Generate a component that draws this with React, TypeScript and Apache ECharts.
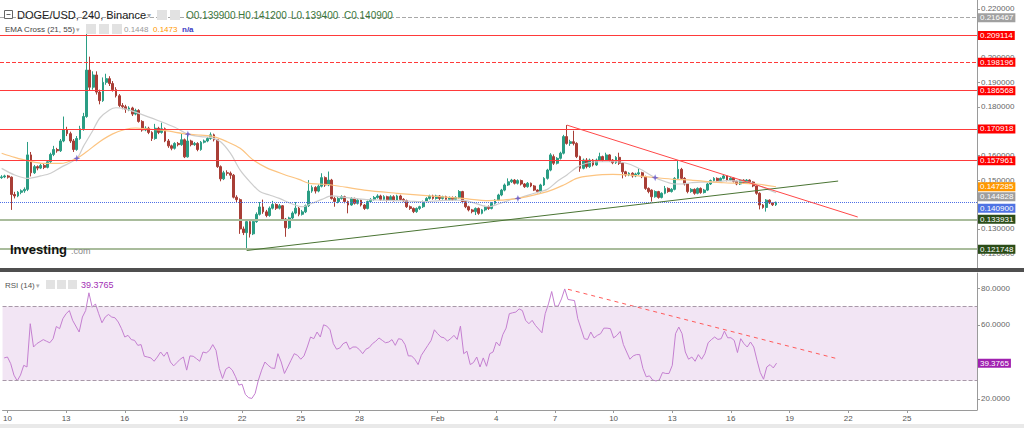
import React, { useEffect, useRef } from 'react';
import * as echarts from 'echarts';

const FONT = '"Liberation Sans", Arial, sans-serif';

// 4-hour slots from 2022-01-09 20:00 UTC up to the right edge of the chart
const SLOT_START = Date.UTC(2022, 0, 9, 20);
const SLOT_COUNT = 299;
const categories: string[] = Array.from({ length: SLOT_COUNT }, (_, k) =>
  new Date(SLOT_START + k * 4 * 3600000).toISOString().slice(0, 16).replace('T', ' ')
);

const dayTicks: [string, string][] = [
  ['2022-01-10', '10'], ['2022-01-13', '13'], ['2022-01-16', '16'], ['2022-01-19', '19'],
  ['2022-01-22', '22'], ['2022-01-25', '25'], ['2022-01-28', '28'], ['2022-02-01', 'Feb'],
  ['2022-02-04', '4'], ['2022-02-07', '7'], ['2022-02-10', '10'], ['2022-02-13', '13'],
  ['2022-02-16', '16'], ['2022-02-19', '19'], ['2022-02-22', '22'], ['2022-02-25', '25'],
];
const tickMap = new Map(dayTicks.map(([d, t]) => [d + ' 00:00', t]));

// candles: [open, close, low, high]
const ohlc: number[][] = [
  [0.1510, 0.1513, 0.1505, 0.1520], [0.1513, 0.1517, 0.1508, 0.1522], [0.1517, 0.1512, 0.1506, 0.1521],
  [0.1512, 0.1441, 0.1378, 0.1515], [0.1441, 0.1435, 0.1425, 0.1452], [0.1435, 0.1450, 0.1430, 0.1455],
  [0.1450, 0.1456, 0.1442, 0.1462], [0.1456, 0.1462, 0.1448, 0.1470], [0.1462, 0.1603, 0.1455, 0.1656],
  [0.1603, 0.1530, 0.1515, 0.1615], [0.1530, 0.1555, 0.1525, 0.1562], [0.1555, 0.1549, 0.1540, 0.1560],
  [0.1549, 0.1560, 0.1545, 0.1566], [0.1560, 0.1552, 0.1545, 0.1568], [0.1552, 0.1575, 0.1548, 0.1580],
  [0.1575, 0.1605, 0.1570, 0.1612], [0.1605, 0.1625, 0.1598, 0.1640], [0.1625, 0.1620, 0.1612, 0.1632],
  [0.1620, 0.1660, 0.1615, 0.1668], [0.1660, 0.1705, 0.1655, 0.1760], [0.1705, 0.1690, 0.1680, 0.1718],
  [0.1690, 0.1660, 0.1652, 0.1698], [0.1660, 0.1625, 0.1615, 0.1668], [0.1625, 0.1670, 0.1620, 0.1680],
  [0.1670, 0.1710, 0.1665, 0.1722], [0.1710, 0.1760, 0.1702, 0.1775], [0.1760, 0.1950, 0.1755, 0.2120],
  [0.1950, 0.1880, 0.1865, 0.2005], [0.1880, 0.1930, 0.1870, 0.1945], [0.1930, 0.1860, 0.1850, 0.1945],
  [0.1860, 0.1825, 0.1810, 0.1870], [0.1825, 0.1900, 0.1820, 0.1920], [0.1900, 0.1915, 0.1890, 0.1935],
  [0.1915, 0.1895, 0.1885, 0.1925], [0.1895, 0.1870, 0.1862, 0.1905], [0.1870, 0.1845, 0.1838, 0.1880],
  [0.1845, 0.1805, 0.1798, 0.1852], [0.1805, 0.1800, 0.1790, 0.1815], [0.1800, 0.1790, 0.1775, 0.1808],
  [0.1790, 0.1795, 0.1782, 0.1802], [0.1795, 0.1770, 0.1762, 0.1800], [0.1770, 0.1785, 0.1765, 0.1792],
  [0.1785, 0.1740, 0.1735, 0.1790], [0.1740, 0.1705, 0.1698, 0.1745], [0.1705, 0.1712, 0.1700, 0.1720],
  [0.1712, 0.1695, 0.1688, 0.1718], [0.1695, 0.1670, 0.1660, 0.1700], [0.1670, 0.1712, 0.1665, 0.1730],
  [0.1712, 0.1695, 0.1688, 0.1718], [0.1695, 0.1710, 0.1690, 0.1735], [0.1710, 0.1660, 0.1655, 0.1715],
  [0.1660, 0.1640, 0.1632, 0.1668], [0.1640, 0.1630, 0.1622, 0.1645], [0.1630, 0.1650, 0.1625, 0.1655],
  [0.1650, 0.1645, 0.1638, 0.1656], [0.1645, 0.1665, 0.1640, 0.1690], [0.1665, 0.1595, 0.1590, 0.1670],
  [0.1595, 0.1660, 0.1592, 0.1685], [0.1660, 0.1645, 0.1638, 0.1665], [0.1645, 0.1650, 0.1640, 0.1656],
  [0.1650, 0.1625, 0.1618, 0.1655], [0.1625, 0.1655, 0.1620, 0.1660], [0.1655, 0.1660, 0.1650, 0.1666],
  [0.1660, 0.1670, 0.1655, 0.1676], [0.1670, 0.1685, 0.1665, 0.1695], [0.1685, 0.1665, 0.1658, 0.1690],
  [0.1665, 0.1555, 0.1550, 0.1668], [0.1555, 0.1505, 0.1495, 0.1560], [0.1505, 0.1530, 0.1500, 0.1538],
  [0.1530, 0.1528, 0.1518, 0.1540], [0.1528, 0.1520, 0.1505, 0.1535], [0.1520, 0.1430, 0.1425, 0.1525],
  [0.1430, 0.1420, 0.1410, 0.1438], [0.1420, 0.1300, 0.1280, 0.1425], [0.1300, 0.1285, 0.1275, 0.1310],
  [0.1285, 0.1330, 0.1215, 0.1338], [0.1330, 0.1280, 0.1265, 0.1335], [0.1280, 0.1330, 0.1275, 0.1338],
  [0.1330, 0.1360, 0.1325, 0.1368], [0.1360, 0.1390, 0.1355, 0.1410], [0.1390, 0.1370, 0.1362, 0.1420],
  [0.1370, 0.1355, 0.1348, 0.1378], [0.1355, 0.1385, 0.1350, 0.1392], [0.1385, 0.1400, 0.1380, 0.1415],
  [0.1400, 0.1385, 0.1378, 0.1405], [0.1385, 0.1395, 0.1380, 0.1402], [0.1395, 0.1340, 0.1335, 0.1398],
  [0.1340, 0.1305, 0.1268, 0.1345], [0.1305, 0.1345, 0.1300, 0.1350], [0.1345, 0.1365, 0.1340, 0.1372],
  [0.1365, 0.1385, 0.1360, 0.1410], [0.1385, 0.1360, 0.1352, 0.1390], [0.1360, 0.1370, 0.1355, 0.1378],
  [0.1370, 0.1395, 0.1365, 0.1400], [0.1395, 0.1455, 0.1390, 0.1500], [0.1455, 0.1470, 0.1448, 0.1478],
  [0.1470, 0.1455, 0.1445, 0.1475], [0.1455, 0.1475, 0.1450, 0.1482], [0.1475, 0.1510, 0.1470, 0.1528],
  [0.1510, 0.1480, 0.1472, 0.1515], [0.1480, 0.1500, 0.1475, 0.1535], [0.1500, 0.1425, 0.1420, 0.1505],
  [0.1425, 0.1412, 0.1391, 0.1432], [0.1412, 0.1425, 0.1405, 0.1430], [0.1425, 0.1432, 0.1420, 0.1438],
  [0.1432, 0.1412, 0.1405, 0.1436], [0.1412, 0.1398, 0.1364, 0.1416], [0.1398, 0.1425, 0.1395, 0.1430],
  [0.1425, 0.1405, 0.1400, 0.1428], [0.1405, 0.1418, 0.1400, 0.1424], [0.1418, 0.1398, 0.1392, 0.1420],
  [0.1398, 0.1384, 0.1378, 0.1402], [0.1384, 0.1412, 0.1380, 0.1416], [0.1412, 0.1421, 0.1408, 0.1426],
  [0.1421, 0.1429, 0.1416, 0.1435], [0.1429, 0.1435, 0.1424, 0.1442], [0.1435, 0.1421, 0.1415, 0.1440],
  [0.1421, 0.1432, 0.1416, 0.1438], [0.1432, 0.1418, 0.1412, 0.1436], [0.1418, 0.1432, 0.1414, 0.1438],
  [0.1432, 0.1418, 0.1412, 0.1438], [0.1418, 0.1435, 0.1414, 0.1440], [0.1435, 0.1421, 0.1416, 0.1440],
  [0.1421, 0.1416, 0.1410, 0.1426], [0.1416, 0.1391, 0.1386, 0.1420], [0.1391, 0.1384, 0.1378, 0.1396],
  [0.1384, 0.1371, 0.1365, 0.1388], [0.1371, 0.1384, 0.1366, 0.1388], [0.1384, 0.1391, 0.1378, 0.1395],
  [0.1391, 0.1412, 0.1386, 0.1416], [0.1412, 0.1425, 0.1408, 0.1430], [0.1425, 0.1435, 0.1420, 0.1440],
  [0.1435, 0.1425, 0.1420, 0.1440], [0.1425, 0.1435, 0.1420, 0.1440], [0.1435, 0.1425, 0.1418, 0.1438],
  [0.1425, 0.1432, 0.1420, 0.1436], [0.1432, 0.1421, 0.1416, 0.1436], [0.1421, 0.1429, 0.1416, 0.1433],
  [0.1429, 0.1421, 0.1415, 0.1433], [0.1421, 0.1429, 0.1417, 0.1434], [0.1429, 0.1453, 0.1424, 0.1459],
  [0.1453, 0.1412, 0.1405, 0.1456], [0.1412, 0.1391, 0.1385, 0.1416], [0.1391, 0.1378, 0.1372, 0.1395],
  [0.1378, 0.1371, 0.1364, 0.1382], [0.1371, 0.1384, 0.1357, 0.1388], [0.1384, 0.1364, 0.1358, 0.1388],
  [0.1364, 0.1378, 0.1360, 0.1382], [0.1378, 0.1391, 0.1372, 0.1395], [0.1391, 0.1384, 0.1378, 0.1396],
  [0.1384, 0.1405, 0.1380, 0.1410], [0.1405, 0.1418, 0.1400, 0.1422], [0.1418, 0.1439, 0.1414, 0.1444],
  [0.1439, 0.1459, 0.1434, 0.1464], [0.1459, 0.1480, 0.1454, 0.1486], [0.1480, 0.1493, 0.1476, 0.1507],
  [0.1493, 0.1500, 0.1488, 0.1505], [0.1500, 0.1487, 0.1482, 0.1504], [0.1487, 0.1498, 0.1482, 0.1503],
  [0.1498, 0.1484, 0.1478, 0.1502], [0.1484, 0.1473, 0.1468, 0.1488], [0.1473, 0.1487, 0.1469, 0.1492],
  [0.1487, 0.1476, 0.1471, 0.1490], [0.1476, 0.1459, 0.1455, 0.1480], [0.1459, 0.1453, 0.1446, 0.1462],
  [0.1453, 0.1480, 0.1449, 0.1485], [0.1480, 0.1507, 0.1476, 0.1512], [0.1507, 0.1541, 0.1502, 0.1546],
  [0.1541, 0.1603, 0.1536, 0.1610], [0.1596, 0.1569, 0.1562, 0.1605], [0.1569, 0.1589, 0.1564, 0.1594],
  [0.1589, 0.1610, 0.1584, 0.1616], [0.1610, 0.1678, 0.1605, 0.1685], [0.1678, 0.1650, 0.1645, 0.1725],
  [0.1650, 0.1657, 0.1640, 0.1665], [0.1657, 0.1650, 0.1642, 0.1702], [0.1650, 0.1596, 0.1590, 0.1655],
  [0.1596, 0.1548, 0.1534, 0.1600], [0.1548, 0.1582, 0.1544, 0.1588], [0.1582, 0.1555, 0.1548, 0.1590],
  [0.1555, 0.1582, 0.1550, 0.1588], [0.1582, 0.1562, 0.1556, 0.1586], [0.1562, 0.1582, 0.1558, 0.1588],
  [0.1582, 0.1596, 0.1578, 0.1612], [0.1596, 0.1582, 0.1576, 0.1600], [0.1582, 0.1603, 0.1578, 0.1612],
  [0.1603, 0.1582, 0.1576, 0.1606], [0.1582, 0.1571, 0.1565, 0.1586], [0.1571, 0.1593, 0.1566, 0.1598],
  [0.1593, 0.1569, 0.1562, 0.1612], [0.1569, 0.1534, 0.1507, 0.1572], [0.1534, 0.1521, 0.1514, 0.1538],
  [0.1521, 0.1528, 0.1516, 0.1532], [0.1528, 0.1517, 0.1510, 0.1532], [0.1517, 0.1525, 0.1512, 0.1530],
  [0.1525, 0.1530, 0.1520, 0.1548], [0.1530, 0.1514, 0.1508, 0.1534], [0.1514, 0.1466, 0.1460, 0.1518],
  [0.1466, 0.1453, 0.1446, 0.1470], [0.1459, 0.1432, 0.1412, 0.1462], [0.1432, 0.1453, 0.1428, 0.1458],
  [0.1453, 0.1429, 0.1424, 0.1456], [0.1429, 0.1446, 0.1425, 0.1450], [0.1446, 0.1466, 0.1442, 0.1476],
  [0.1466, 0.1453, 0.1448, 0.1470], [0.1453, 0.1462, 0.1449, 0.1467], [0.1462, 0.1507, 0.1458, 0.1512],
  [0.1507, 0.1544, 0.1502, 0.1582], [0.1544, 0.1507, 0.1500, 0.1550], [0.1507, 0.1484, 0.1478, 0.1512],
  [0.1484, 0.1453, 0.1446, 0.1488], [0.1453, 0.1462, 0.1448, 0.1467], [0.1462, 0.1446, 0.1440, 0.1466],
  [0.1446, 0.1466, 0.1442, 0.1470], [0.1466, 0.1449, 0.1444, 0.1470], [0.1449, 0.1459, 0.1445, 0.1464],
  [0.1459, 0.1484, 0.1455, 0.1488], [0.1484, 0.1498, 0.1480, 0.1502], [0.1498, 0.1507, 0.1494, 0.1512],
  [0.1507, 0.1498, 0.1493, 0.1511], [0.1498, 0.1507, 0.1494, 0.1511], [0.1507, 0.1517, 0.1503, 0.1524],
  [0.1517, 0.1500, 0.1495, 0.1520], [0.1500, 0.1508, 0.1496, 0.1512], [0.1508, 0.1495, 0.1490, 0.1511],
  [0.1495, 0.1484, 0.1479, 0.1498], [0.1484, 0.1500, 0.1480, 0.1504], [0.1500, 0.1489, 0.1484, 0.1503],
  [0.1489, 0.1500, 0.1485, 0.1504], [0.1500, 0.1492, 0.1487, 0.1503], [0.1492, 0.1476, 0.1471, 0.1495],
  [0.1476, 0.1446, 0.1440, 0.1479], [0.1446, 0.1398, 0.1380, 0.1450], [0.1398, 0.1388, 0.1383, 0.1402],
  [0.1388, 0.1418, 0.1371, 0.1422], [0.1418, 0.1407, 0.1402, 0.1421], [0.1407, 0.1399, 0.1394, 0.1410],
  [0.1399, 0.1409, 0.1394, 0.1412],
];

// EMA 21 (grey) and EMA 55 (orange), read at their vertices: [slot, value]
const emaFast: number[][] = [
  [0, 0.1548], [4, 0.1521], [8, 0.1507], [12, 0.1517], [15, 0.1528], [18, 0.1551], [23, 0.1589],
  [25, 0.1637], [28, 0.1705], [30, 0.1753], [33, 0.1787], [35, 0.1796], [38, 0.1790], [42, 0.1773],
  [48, 0.1743], [53, 0.1716], [57, 0.1688], [61, 0.1678], [64, 0.1675], [67, 0.1657], [70, 0.1610],
  [73, 0.1541], [76, 0.1493], [79, 0.1453], [82, 0.1439], [85, 0.1425], [89, 0.1402], [92, 0.1391],
  [95, 0.1405], [98, 0.1421], [101, 0.1435], [105, 0.1429], [111, 0.1421], [116, 0.1418], [121, 0.1416],
  [125, 0.1414], [129, 0.1412], [134, 0.1416], [139, 0.1418], [142, 0.1416], [145, 0.1405], [149, 0.1391],
  [152, 0.1402], [156, 0.1421], [158, 0.1425], [163, 0.1446], [167, 0.1462], [170, 0.1494], [173, 0.1521],
  [176, 0.1552], [179, 0.1569], [183, 0.1575], [188, 0.1575], [192, 0.1566], [196, 0.1541], [200, 0.1510],
  [203, 0.1494], [206, 0.1484], [208, 0.1484], [211, 0.1489], [214, 0.1492], [218, 0.1492], [222, 0.1498],
  [226, 0.1496], [229, 0.1491], [232, 0.1476], [235, 0.1459], [237, 0.144828],
];
const emaSlow: number[][] = [
  [0, 0.1610], [4, 0.1593], [8, 0.1579], [13, 0.1568], [18, 0.1568], [23, 0.1589], [26, 0.1616],
  [30, 0.1657], [34, 0.1689], [38, 0.1708], [41, 0.1713], [45, 0.1709], [50, 0.1702], [57, 0.1688],
  [61, 0.1684], [65, 0.1678], [69, 0.1657], [73, 0.1630], [77, 0.1582], [81, 0.1551], [86, 0.1525],
  [91, 0.1503], [94, 0.1487], [97, 0.1484], [101, 0.1480], [111, 0.1459], [121, 0.1446], [131, 0.1435],
  [141, 0.1425], [149, 0.1416], [153, 0.1418], [158, 0.1425], [167, 0.1453], [172, 0.1480], [176, 0.1507],
  [180, 0.1517], [187, 0.1523], [192, 0.1521], [197, 0.1514], [200, 0.1510], [206, 0.1503], [211, 0.1500],
  [216, 0.1494], [221, 0.1489], [226, 0.1487], [231, 0.1484], [237, 0.147285],
];
const emaCrosses: number[][] = [[23, 0.1589], [57, 0.1688], [158, 0.1425], [200, 0.1510]];

// RSI(14) read at its vertices: [slot, value]
const rsi: number[][] = [
  [0, 42.2], [1, 42.7], [2, 39.1], [3, 32.9], [4, 29.8], [5, 32.9], [6, 38.2], [7, 37.3], [8, 60.7],
  [9, 48.1], [10, 49.9], [12, 52.1], [13, 51.2], [14, 50.4], [15, 52.6], [16, 59.2], [17, 58.0], [18, 63.4],
  [19, 66.1], [20, 67.8], [21, 62.5], [23, 56.2], [24, 64.3], [25, 67.8], [26, 77.4], [27, 69.6], [28, 71.4],
  [29, 66.1], [30, 61.2], [31, 64.3], [32, 65.7], [33, 64.3], [34, 63.9], [35, 61.6], [36, 58.0], [37, 53.5],
  [38, 54.4], [39, 52.1], [40, 51.7], [41, 49.0], [42, 49.4], [43, 43.1], [44, 42.7], [45, 42.2], [46, 40.4],
  [47, 42.7], [48, 45.4], [49, 43.1], [50, 45.4], [51, 40.0], [52, 37.9], [53, 39.7], [54, 41.5], [55, 42.7],
  [56, 35.6], [57, 43.3], [58, 43.1], [59, 41.8], [60, 40.4], [61, 45.4], [62, 44.9], [63, 46.3], [64, 49.4],
  [65, 46.3], [66, 36.5], [67, 31.1], [68, 36.1], [69, 37.3], [70, 35.6], [71, 32.0], [72, 27.5], [73, 28.0],
  [74, 22.5], [75, 20.7], [76, 20.3], [77, 23.0], [78, 30.2], [79, 35.6], [80, 40.0], [81, 38.2], [82, 36.8],
  [83, 36.5], [84, 44.5], [85, 40.0], [86, 33.8], [87, 37.3], [88, 40.9], [89, 44.5], [90, 43.6], [91, 41.5],
  [92, 43.3], [93, 48.1], [94, 53.5], [95, 52.6], [96, 56.2], [97, 53.5], [98, 60.1], [99, 59.4], [100, 57.4],
  [101, 49.9], [102, 46.9], [103, 47.6], [104, 49.9], [105, 50.8], [106, 46.9], [107, 48.1], [108, 48.1],
  [109, 46.7], [110, 44.5], [111, 46.9], [112, 47.8], [113, 49.9], [114, 51.2], [115, 53.0], [116, 51.7],
  [117, 50.4], [118, 50.8], [119, 52.1], [120, 49.0], [121, 52.6], [122, 52.2], [123, 49.4], [124, 43.3],
  [125, 43.3], [126, 41.5], [127, 38.6], [128, 43.6], [130, 49.0], [131, 51.7], [132, 57.4], [133, 55.3],
  [134, 53.5], [135, 53.1], [136, 51.3], [137, 52.6], [138, 54.4], [139, 52.2], [140, 59.4], [141, 44.5],
  [142, 45.8], [143, 38.6], [144, 39.7], [145, 42.7], [146, 37.3], [147, 42.2], [148, 37.7], [149, 44.5],
  [150, 45.4], [151, 50.8], [152, 48.7], [153, 54.8], [154, 58.3], [155, 66.1], [156, 66.6], [157, 67.0],
  [158, 68.7], [159, 67.8], [160, 62.5], [161, 60.7], [162, 62.5], [163, 59.8], [165, 55.8], [166, 66.1],
  [167, 71.4], [168, 78.1], [169, 70.2], [170, 70.2], [171, 74.1], [172, 79.5], [173, 73.8], [175, 73.2],
  [176, 63.4], [178, 52.6], [179, 52.2], [180, 56.2], [181, 53.0], [182, 54.4], [183, 55.3], [184, 58.3],
  [185, 58.3], [186, 58.0], [187, 53.0], [188, 54.4], [189, 56.5], [190, 49.4], [191, 45.4], [192, 41.5],
  [193, 43.3], [194, 44.0], [195, 44.0], [196, 36.5], [197, 32.0], [198, 32.5], [199, 30.2], [200, 29.8],
  [201, 30.2], [202, 34.3], [203, 33.8], [204, 33.8], [205, 38.2], [206, 55.3], [207, 58.9], [208, 55.3],
  [209, 45.4], [210, 41.5], [211, 42.7], [212, 40.4], [213, 44.0], [214, 41.5], [215, 44.5], [216, 50.4],
  [217, 52.1], [218, 53.5], [219, 52.2], [220, 52.6], [221, 56.7], [222, 53.1], [223, 53.1], [224, 51.7],
  [225, 45.1], [226, 52.6], [227, 49.9], [228, 48.1], [229, 50.8], [230, 48.1], [231, 40.9], [232, 34.3],
  [233, 30.7], [234, 37.3], [235, 38.6], [236, 36.8], [237, 39.3765],
];

// drawn trend lines: [slot, value]
const supportTrend: number[][] = [[75, 0.1212], [256, 0.1496]];
const resistanceTrend: number[][] = [[173, 0.1725], [262, 0.1349]];
const rsiTrend: number[][] = [[173, 79.3], [256, 41.6]];

// horizontal levels
const topLevel = 0.216467;
const resistanceSolid = [0.209114, 0.186568, 0.170918, 0.157961];
const resistanceDashed = [0.198196];
const supportLevels = [0.133931, 0.121748];
const lastPrice = 0.1409;
const emaFastLast = 0.144828;
const emaSlowLast = 0.147285;
const rsiLast = 39.3765;
const rsiBand = [30, 70];

// axis ticks; labels that the reference hides under the value tags are left out
const priceTicks = [0.12, 0.13, 0.14, 0.15, 0.16, 0.17, 0.18, 0.19, 0.2, 0.21, 0.22];
const priceTickLabels = [0.12, 0.13, 0.15, 0.16, 0.18, 0.19, 0.2, 0.22];
const rsiTicks = [20, 40, 60, 80];
const rsiTickLabels = [20, 60, 80];

const PRICE_MIN = 0.11403;
const PRICE_MAX = 0.22368;
const PRICE_H = 268;
const RSI_MIN = 14.05;
const RSI_MAX = 88.11;
const PX_PER_PRICE = PRICE_H / (PRICE_MAX - PRICE_MIN);

const UP = '#2a9d84';
const DOWN = '#a83e36';
const RED = '#ff3a3a';
const NONE = 'rgba(0,0,0,0)';

function tagLabel(text: string, bg: string) {
  return {
    show: true,
    position: 'end',
    formatter: text,
    backgroundColor: bg,
    color: '#fff',
    fontSize: 8,
    fontFamily: FONT,
    padding: [1, 2, 0, 2],
    distance: 1,
  };
}

function level(value: number, color: string, type: string, width: number, bg: string | null, text?: string) {
  return {
    yAxis: value,
    lineStyle: { color, type, width },
    label: bg ? tagLabel(text ?? value.toFixed(6), bg) : { show: false },
  };
}

export default function App() {
  const ref = useRef<HTMLDivElement>(null);

  useEffect(() => {
    if (!ref.current) return;
    const chart = echarts.init(ref.current, undefined, { renderer: 'svg' });

    const xAxisBase = {
      type: 'category',
      data: categories,
      boundaryGap: true,
    };

    const priceMarks = [
      level(topLevel, '#a8a8a8', 'dashed', 1, '#a0a0a0'),
      ...resistanceSolid.map((v) => level(v, RED, 'solid', 1, '#ff0000')),
      ...resistanceDashed.map((v) => level(v, RED, 'dashed', 1, '#ff0000')),
      ...supportLevels.map((v) => level(v, '#a9bc9c', 'solid', 2, '#2b4d18')),
      level(lastPrice, '#4d6fe6', 'dotted', 1, null),
      level(lastPrice - 6 / PX_PER_PRICE, NONE, 'solid', 1, '#4f73e3', lastPrice.toFixed(6)),
      level(emaSlowLast, NONE, 'solid', 1, '#ff9800'),
      level(emaFastLast - 4 / PX_PER_PRICE, NONE, 'solid', 1, '#9e9e9e', emaFastLast.toFixed(6)),
    ];

    const option: any = {
      animation: false,
      backgroundColor: '#ffffff',
      textStyle: { fontFamily: FONT },
      grid: [
        { left: 0, right: 47, top: 0, height: PRICE_H },
        { left: 0, right: 47, top: 273, height: 137 },
      ],
      xAxis: [
        { ...xAxisBase, gridIndex: 0, show: false },
        {
          ...xAxisBase,
          gridIndex: 1,
          axisLine: { show: true, lineStyle: { color: '#9a9a9a' } },
          axisTick: {
            show: true,
            alignWithLabel: true,
            length: 3,
            interval: (i: number, v: string) => tickMap.has(v),
            lineStyle: { color: '#9a9a9a' },
          },
          axisLabel: {
            interval: (i: number, v: string) => tickMap.has(v),
            formatter: (v: string) => tickMap.get(v) ?? '',
            fontSize: 8,
            color: '#555',
            margin: 4,
            fontFamily: FONT,
          },
          splitLine: { show: false },
        },
      ],
      yAxis: [
        {
          type: 'value',
          gridIndex: 0,
          position: 'right',
          min: PRICE_MIN,
          max: PRICE_MAX,
          splitLine: { show: false },
          axisLine: { show: true, lineStyle: { color: '#9a9a9a' } },
          axisTick: { show: true, length: 3, customValues: priceTicks, lineStyle: { color: '#9a9a9a' } },
          axisLabel: {
            customValues: priceTickLabels,
            formatter: (v: number) => v.toFixed(6),
            fontSize: 8,
            color: '#666',
            margin: 4,
            fontFamily: FONT,
          },
        },
        {
          type: 'value',
          gridIndex: 1,
          position: 'right',
          min: RSI_MIN,
          max: RSI_MAX,
          splitLine: { show: false },
          axisLine: { show: true, lineStyle: { color: '#9a9a9a' } },
          axisTick: { show: true, length: 3, customValues: rsiTicks, lineStyle: { color: '#9a9a9a' } },
          axisLabel: {
            customValues: rsiTickLabels,
            formatter: (v: number) => v.toFixed(4),
            fontSize: 8,
            color: '#666',
            margin: 4,
            fontFamily: FONT,
          },
        },
      ],
      series: [
        {
          name: 'DOGE/USD',
          type: 'candlestick',
          xAxisIndex: 0,
          yAxisIndex: 0,
          data: ohlc,
          barWidth: '72%',
          itemStyle: { color: UP, color0: DOWN, borderColor: UP, borderColor0: DOWN, borderWidth: 1 },
          markLine: { silent: true, precision: 6, symbol: ['none', 'none'], animation: false, data: priceMarks },
          z: 3,
        },
        {
          name: 'EMA 21',
          type: 'line',
          xAxisIndex: 0,
          yAxisIndex: 0,
          data: emaFast,
          smooth: 0.3,
          showSymbol: false,
          lineStyle: { color: '#cdcdcd', width: 1.2 },
          z: 4,
        },
        {
          name: 'EMA 55',
          type: 'line',
          xAxisIndex: 0,
          yAxisIndex: 0,
          data: emaSlow,
          smooth: 0.3,
          showSymbol: false,
          lineStyle: { color: '#fcc481', width: 1.2 },
          z: 4,
        },
        {
          name: 'EMA cross',
          type: 'scatter',
          xAxisIndex: 0,
          yAxisIndex: 0,
          data: emaCrosses,
          symbol: 'path://M0,-5L1.3,-1.3L5,0L1.3,1.3L0,5L-1.3,1.3L-5,0L-1.3,-1.3Z',
          symbolSize: 7,
          itemStyle: { color: '#5a4fcf' },
          z: 6,
        },
        {
          name: 'Support trend',
          type: 'line',
          xAxisIndex: 0,
          yAxisIndex: 0,
          data: supportTrend,
          showSymbol: false,
          lineStyle: { color: '#4a7433', width: 1 },
          z: 5,
        },
        {
          name: 'Resistance trend',
          type: 'line',
          xAxisIndex: 0,
          yAxisIndex: 0,
          data: resistanceTrend,
          showSymbol: false,
          lineStyle: { color: '#ff4848', width: 1 },
          z: 5,
        },
        {
          name: 'RSI (14)',
          type: 'line',
          xAxisIndex: 1,
          yAxisIndex: 1,
          data: rsi,
          showSymbol: false,
          lineStyle: { color: '#c47fd0', width: 1 },
          markArea: {
            silent: true,
            itemStyle: { color: '#f2e5f4' },
            data: [[{ yAxis: rsiBand[1] }, { yAxis: rsiBand[0] }]],
          },
          markLine: {
            silent: true,
            precision: 4,
            symbol: ['none', 'none'],
            animation: false,
            data: [
              { yAxis: rsiBand[1], lineStyle: { color: '#a898a8', type: 'dashed', width: 1 }, label: { show: false } },
              { yAxis: rsiBand[0], lineStyle: { color: '#a898a8', type: 'dashed', width: 1 }, label: { show: false } },
              { yAxis: rsiLast, lineStyle: { color: NONE, width: 1 }, label: tagLabel(rsiLast.toFixed(4), '#a021b0') },
            ],
          },
          z: 3,
        },
        {
          name: 'RSI trend',
          type: 'line',
          xAxisIndex: 1,
          yAxisIndex: 1,
          data: rsiTrend,
          showSymbol: false,
          lineStyle: { color: '#ff5a5a', width: 1, type: [4, 4] },
          z: 4,
        },
      ],
      graphic: [
        { type: 'rect', shape: { x: 0, y: 268, width: 1024, height: 4 }, style: { fill: '#4f4f4f' }, z: 100 },
        { type: 'rect', shape: { x: 0, y: 424, width: 1024, height: 4 }, style: { fill: '#e9e9e9' }, z: 100 },
        // title row
        { type: 'rect', shape: { x: 4.5, y: 10.5, width: 8, height: 8 }, style: { fill: '#fff', stroke: '#666', lineWidth: 1 }, z: 100 },
        { type: 'line', shape: { x1: 6.5, y1: 14.5, x2: 10.5, y2: 14.5 }, style: { stroke: '#666', lineWidth: 1 }, z: 100 },
        { type: 'text', x: 17, y: 15, style: { text: 'DOGE/USD, 240, Binance', fontSize: 11, fontFamily: FONT, fill: '#222', verticalAlign: 'middle' }, z: 100 },
        { type: 'text', x: 147, y: 15, style: { text: '▾', fontSize: 8, fontFamily: FONT, fill: '#aaa', verticalAlign: 'middle' }, z: 100 },
        { type: 'rect', shape: { x: 157, y: 10, width: 10, height: 10 }, style: { fill: '#e2e2e2' }, z: 100 },
        { type: 'rect', shape: { x: 170, y: 10, width: 10, height: 10 }, style: { fill: '#e2e2e2' }, z: 100 },
        { type: 'text', x: 186, y: 15, style: { text: 'O0.139900', fontSize: 10, fontFamily: FONT, fill: '#3b773b', verticalAlign: 'middle' }, z: 100 },
        { type: 'text', x: 238, y: 15, style: { text: 'H0.141200', fontSize: 10, fontFamily: FONT, fill: '#3b773b', verticalAlign: 'middle' }, z: 100 },
        { type: 'text', x: 291, y: 15, style: { text: 'L0.139400', fontSize: 10, fontFamily: FONT, fill: '#3b773b', verticalAlign: 'middle' }, z: 100 },
        { type: 'text', x: 344, y: 15, style: { text: 'C0.140900', fontSize: 10, fontFamily: FONT, fill: '#3b773b', verticalAlign: 'middle' }, z: 100 },
        // EMA legend row
        { type: 'text', x: 5, y: 29, style: { text: 'EMA Cross (21, 55)', fontSize: 8, fontFamily: FONT, fill: '#444', verticalAlign: 'middle' }, z: 100 },
        { type: 'text', x: 76, y: 29, style: { text: '▾', fontSize: 7, fontFamily: FONT, fill: '#aaa', verticalAlign: 'middle' }, z: 100 },
        { type: 'rect', shape: { x: 86, y: 24, width: 10, height: 10 }, style: { fill: '#e2e2e2' }, z: 100 },
        { type: 'rect', shape: { x: 99, y: 24, width: 10, height: 10 }, style: { fill: '#e2e2e2' }, z: 100 },
        { type: 'rect', shape: { x: 112, y: 24, width: 10, height: 10 }, style: { fill: '#e2e2e2' }, z: 100 },
        { type: 'text', x: 124, y: 29, style: { text: '0.1448', fontSize: 8, fontFamily: FONT, fill: '#9a9a9a', verticalAlign: 'middle' }, z: 100 },
        { type: 'text', x: 153, y: 29, style: { text: '0.1473', fontSize: 8, fontFamily: FONT, fill: '#ff9800', verticalAlign: 'middle' }, z: 100 },
        { type: 'text', x: 182, y: 29, style: { text: 'n/a', fontSize: 8, fontFamily: FONT, fontWeight: 'bold', fill: '#3b3bc4', verticalAlign: 'middle' }, z: 100 },
        // RSI legend row
        { type: 'text', x: 5, y: 285, style: { text: 'RSI (14)', fontSize: 8, fontFamily: FONT, fill: '#555', verticalAlign: 'middle' }, z: 100 },
        { type: 'text', x: 36, y: 285, style: { text: '▾', fontSize: 7, fontFamily: FONT, fill: '#aaa', verticalAlign: 'middle' }, z: 100 },
        { type: 'rect', shape: { x: 46, y: 280, width: 9, height: 9 }, style: { fill: '#e2e2e2' }, z: 100 },
        { type: 'rect', shape: { x: 57, y: 280, width: 9, height: 9 }, style: { fill: '#e2e2e2' }, z: 100 },
        { type: 'rect', shape: { x: 68, y: 280, width: 9, height: 9 }, style: { fill: '#e2e2e2' }, z: 100 },
        { type: 'text', x: 81, y: 285, style: { text: '39.3765', fontSize: 9, fontFamily: FONT, fill: '#a330b5', verticalAlign: 'middle' }, z: 100 },
        // watermark
        { type: 'text', x: 10, y: 249, style: { text: 'Investing', fontSize: 13, fontWeight: 'bold', fontFamily: FONT, fill: '#111', verticalAlign: 'middle' }, z: 100 },
        { type: 'text', x: 71, y: 251, style: { text: '.com', fontSize: 9, fontFamily: FONT, fill: '#888', verticalAlign: 'middle' }, z: 100 },
      ],
    };

    chart.setOption(option);
    return () => chart.dispose();
  }, []);

  return (
    <div
      ref={ref}
      style={{ position: 'fixed', left: 0, top: 0, width: 1024, height: 428, background: '#fff' }}
    />
  );
}
